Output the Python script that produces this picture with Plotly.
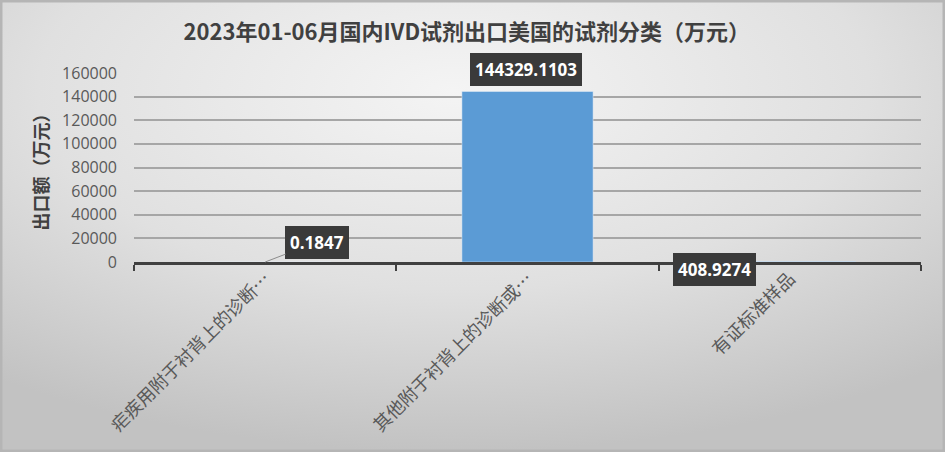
import base64
import plotly.graph_objects as go

categories = ["疟疾用附于衬背上的诊断…", "其他附于衬背上的诊断或…", "有证标准样品"]
values = [0.1847, 144329.1103, 408.9274]
value_labels = ["0.1847", "144329.1103", "408.9274"]
y_ticks = [0, 20000, 40000, 60000, 80000, 100000, 120000, 140000, 160000]

title = "2023年01-06月国内IVD试剂出口美国的试剂分类（万元）"
y_title = "出口额（万元）"

W, H = 945, 452
L, R, T, B = 134, 24, 73, 190
PW, PH = W - L - R, H - T - B

svg = """<svg xmlns='http://www.w3.org/2000/svg' width='945' height='452' viewBox='0 0 945 452' preserveAspectRatio='none'>
<defs><radialGradient id='g' cx='0.48' cy='0.2' r='0.8'>
<stop offset='0' stop-color='#f4f4f4'/><stop offset='0.55' stop-color='#e0e0e0'/><stop offset='1' stop-color='#c2c2c2'/>
</radialGradient></defs><rect width='945' height='452' fill='url(#g)'/></svg>"""
bg_src = "data:image/svg+xml;base64," + base64.b64encode(svg.encode()).decode()

font_cjk = "Noto Sans CJK SC, Open Sans, sans-serif"

fig = go.Figure()
fig.add_trace(go.Bar(x=categories, y=values, marker_color="#5B9BD5", width=0.5, hoverinfo="x+y"))

label_font = dict(family="Open Sans, sans-serif", size=17, color="white", weight="bold")
box = dict(bgcolor="#3a3a3a", bordercolor="#3a3a3a", borderpad=4)
fig.add_annotation(x=categories[0], y=values[0], text=value_labels[0], showarrow=True,
                   arrowhead=0, arrowcolor="#8c8c8c", arrowwidth=1, ax=52, ay=-20,
                   font=label_font, **box)
fig.add_annotation(x=categories[1], y=values[1], text=value_labels[1], showarrow=False,
                   yanchor="bottom", yshift=6, xshift=-2, font=label_font, **box)
fig.add_annotation(x=categories[2], y=values[2], text=value_labels[2], showarrow=False,
                   xshift=-75, yshift=-8, font=label_font, **box)

fig.update_layout(
    width=W, height=H,
    margin=dict(l=L, r=R, t=T, b=B, autoexpand=False),
    paper_bgcolor="#dcdcdc", plot_bgcolor="rgba(0,0,0,0)",
    images=[dict(source=bg_src, xref="paper", yref="paper", x=-L / PW, y=1 + T / PH,
                 sizex=W / PW, sizey=H / PH,
                 xanchor="left", yanchor="top", sizing="stretch", layer="below")],
    title=dict(text=title, x=0.494, xanchor="center", y=1 - 32 / H, yanchor="middle",
               font=dict(family=font_cjk, size=22, color="#404040", weight="bold")),
    showlegend=False,
    font=dict(family=font_cjk),
)
fig.add_shape(type="rect", xref="paper", yref="paper", x0=-L / PW + 1 / PW, x1=1 + R / PW - 1 / PW,
              y0=-B / PH + 1 / PH, y1=1 + T / PH - 1 / PH, line=dict(color="#b5b5b5", width=3))

fig.update_xaxes(
    type="category", tickangle=-45, tickson="boundaries", ticks="outside", ticklen=6,
    tickcolor="#404040", tickwidth=2,
    showline=True, linecolor="#404040", linewidth=3,
    tickfont=dict(family=font_cjk, size=18, color="#595959"), showgrid=False,
    ticklabelstandoff=-4,
)
fig.update_yaxes(
    range=[0, 160000], tickvals=y_ticks, ticktext=[str(v) for v in y_ticks],
    showgrid=True, gridcolor="#a6a6a6", gridwidth=1.5, zeroline=False,
    tickfont=dict(family="Open Sans, sans-serif", size=16, color="#595959"),
    ticklabelstandoff=16,
    title=dict(text=y_title, font=dict(family=font_cjk, size=18, color="#404040", weight="bold"), standoff=8),
)

fig.write_html("out.html", config={"displayModeBar": False},
               post_script="document.body.style.margin='0';")
